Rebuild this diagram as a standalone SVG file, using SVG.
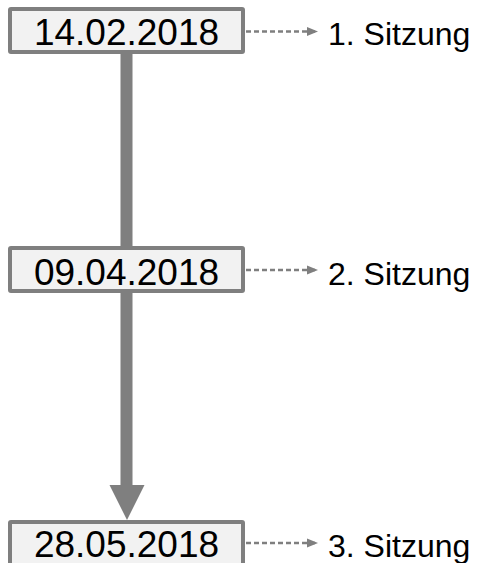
<svg xmlns="http://www.w3.org/2000/svg" width="479" height="563" viewBox="0 0 479 563">
<defs>
<style>
.box{fill:#f2f2f2;stroke:#7f7f7f;stroke-width:4}
.date{font-family:"Liberation Sans",Arial,sans-serif;font-size:37px;fill:#000}
.lbl{font-family:"Liberation Sans",Arial,sans-serif;font-size:32px;fill:#000}
.dash{stroke:#7f7f7f;stroke-width:2.5;stroke-dasharray:5 3;fill:none}
.main{stroke:#7f7f7f;stroke-width:12;fill:none}
</style>
<marker id="ah" markerWidth="12" markerHeight="12" refX="11" refY="6" orient="auto" markerUnits="userSpaceOnUse">
<path d="M0,1.5 L11,6 L0,10.5 Z" fill="#7f7f7f"/>
</marker>
</defs>
<g id="connectors">
<line class="main" x1="126.5" y1="54" x2="126.5" y2="246"/>
<line class="main" x1="126.5" y1="293" x2="126.5" y2="487"/>
<polygon points="109.5,485 144.5,485 127,520" fill="#7f7f7f"/>
<line class="dash" x1="246" y1="31.5" x2="318" y2="31.5" marker-end="url(#ah)"/>
<line class="dash" x1="246" y1="270" x2="318" y2="270" marker-end="url(#ah)"/>
<line class="dash" x1="246" y1="543" x2="318" y2="543" marker-end="url(#ah)"/>
</g>
<g id="node1">
<rect class="box" x="10" y="9" width="233" height="43" rx="1"/>
<text class="date" x="126.5" y="45" text-anchor="middle">14.02.2018</text>
</g>
<g id="node2">
<rect class="box" x="10" y="248" width="233" height="43" rx="1"/>
<text class="date" x="126.5" y="285" text-anchor="middle">09.04.2018</text>
</g>
<g id="node3">
<rect class="box" x="10" y="522" width="233" height="60" rx="1"/>
<text class="date" x="126.5" y="557" text-anchor="middle">28.05.2018</text>
</g>
<g id="label1"><text class="lbl" x="328" y="45">1. Sitzung</text></g>
<g id="label2"><text class="lbl" x="328" y="285">2. Sitzung</text></g>
<g id="label3"><text class="lbl" x="328" y="557">3. Sitzung</text></g>
</svg>
